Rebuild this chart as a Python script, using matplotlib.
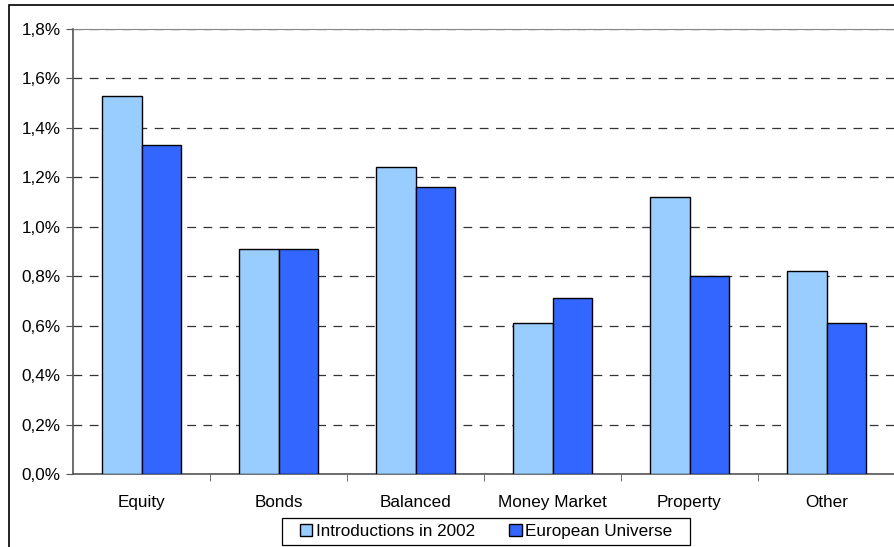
import matplotlib
matplotlib.use("Agg")
import matplotlib.pyplot as plt
import numpy as np
from matplotlib.patches import Rectangle
from matplotlib.ticker import FuncFormatter, FixedLocator

plt.rcParams['font.family'] = ['Liberation Sans', 'DejaVu Sans']

categories = ['Equity', 'Bonds', 'Balanced', 'Money Market', 'Property', 'Other']
intro_2002 = [1.53, 0.91, 1.24, 0.61, 1.12, 0.82]
euro_universe = [1.33, 0.91, 1.16, 0.71, 0.80, 0.61]
series_names = ['Introductions in 2002', 'European Universe']

W, H = 894, 547
fig = plt.figure(figsize=(W / 100, H / 100), dpi=100)
ax = fig.add_axes([73 / W, 73 / H, 822 / W, 445 / H])

x = np.arange(len(categories))
w = 0.285
ax.bar(x - w / 2, intro_2002, w, color='#99CCFF', edgecolor='black', linewidth=1,
       label=series_names[0], zorder=3)
ax.bar(x + w / 2, euro_universe, w, color='#3366FF', edgecolor='black', linewidth=1,
       label=series_names[1], zorder=3)

ax.set_xlim(-0.5, len(categories) - 0.5)
ax.set_ylim(0, 1.8)
ax.set_yticks(np.arange(0, 1.81, 0.2))
ax.yaxis.set_major_formatter(FuncFormatter(lambda v, p: ('%.1f%%' % v).replace('.', ',')))
ax.set_xticks(x)
ax.set_xticklabels(categories)
ax.xaxis.set_minor_locator(FixedLocator(x[:-1] + 0.5))
ax.tick_params(axis='x', which='major', length=0, pad=15, labelsize=12.3)
ax.tick_params(axis='x', which='minor', length=5, color='#555555', direction='out')
ax.tick_params(axis='y', length=5, color='#555555', labelsize=12.3, pad=4)

ax.yaxis.grid(True, linestyle=(0, (7, 6)), color='#333333', linewidth=0.9, zorder=0)
for s in ['left', 'bottom']:
    ax.spines[s].set_color('#555555')
    ax.spines[s].set_linewidth(1.2)
ax.spines['top'].set_color('#888888')
ax.spines['right'].set_visible(False)

# legend without its own frame; box drawn separately (Excel style padding)
fig.legend(loc='center', bbox_to_anchor=(486 / W, 1 - 531.5 / H), ncol=2,
           fontsize=12.3, frameon=False,
           handlelength=0.75, handleheight=0.75, handletextpad=0.2,
           columnspacing=2.0, borderpad=0.25)
fig.patches.append(Rectangle((282 / W, 1 - 545 / H), 408 / W, 27 / H, transform=fig.transFigure,
                             fill=False, edgecolor='black', linewidth=0.9))

# outer chart border (clipped on the right and bottom)
fig.patches.append(Rectangle((9 / W, -0.1), 1.2, 1 - 5 / H + 0.1, transform=fig.transFigure,
                             fill=False, edgecolor='black', linewidth=1.2, clip_on=False))

fig.savefig('out.png', dpi=100)
